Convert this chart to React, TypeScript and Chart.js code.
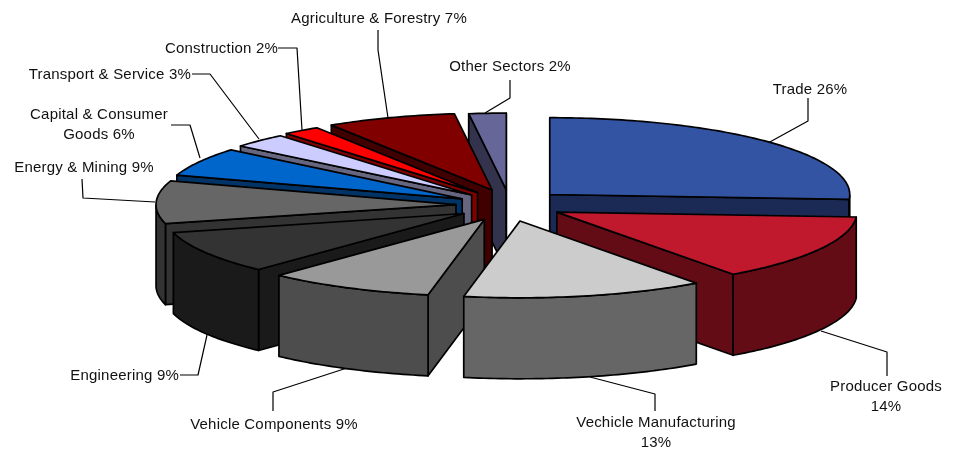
import React, { useEffect, useRef } from "react";
import { Chart, registerables } from "chart.js";

Chart.register(...registerables);

const categories = [
  "Trade",
  "Producer Goods",
  "Vechicle Manufacturing",
  "Vehicle Components",
  "Engineering",
  "Energy & Mining",
  "Capital & Consumer Goods",
  "Transport & Service",
  "Construction",
  "Agriculture & Forestry",
  "Other Sectors",
];
const shares = [26, 14, 13, 9, 9, 9, 6, 3, 2, 7, 2];
const topColors = ["#3353A3", "#C0182C", "#CCCCCC", "#999999", "#333333", "#666666", "#0066CC", "#CCCCFF", "#FF0000", "#800000", "#666699"];
const sideColors = ["#1B2A55", "#640C16", "#666666", "#4D4D4D", "#1A1A1A", "#333333", "#003366", "#666680", "#800000", "#400000", "#33334D"];
const explode = [60, 58, 64, 50, 50, 50, 50, 50, 50, 50, 59];
const paintOrder = [10, 9, 8, 7, 6, 5, 4, 3, 0, 1, 2];
// small screen-space corrections for the reference's perspective
const nudgeX = [0, 0, 0, 1, 1, 0, 0, 1, 1, 3, 4];
const nudgeY = [0, 0, 0, 3, 2, 0, 0, -1, -2, -3, 0];

const TILT = 0.256;
const DEPTH = 81;
const RADIUS = 300;
const FONT = '15px "Liberation Sans", Arial, sans-serif';

type Callout = { lines: string[]; x: number; y: number; align: CanvasTextAlign; leader: number[][] };
const callouts: Callout[] = [
  { lines: ["Trade 26%"], x: 810, y: 90, align: "center", leader: [[808, 98], [808, 121], [768, 143]] },
  { lines: ["Producer Goods", "14%"], x: 886, y: 387, align: "center", leader: [[821, 331], [887, 352], [887, 376]] },
  { lines: ["Vechicle Manufacturing", "13%"], x: 656, y: 423, align: "center", leader: [[590, 377], [655, 394], [655, 411]] },
  { lines: ["Vehicle Components 9%"], x: 274, y: 425, align: "center", leader: [[347, 368], [273, 392], [273, 411]] },
  { lines: ["Engineering 9%"], x: 179, y: 376, align: "right", leader: [[207, 335], [198, 375], [180, 375]] },
  { lines: ["Energy & Mining 9%"], x: 84, y: 168, align: "center", leader: [[155, 202], [83, 198], [82, 179]] },
  { lines: ["Capital & Consumer", "Goods 6%"], x: 99, y: 115, align: "center", leader: [[200, 158], [190, 125], [171, 125]] },
  { lines: ["Transport & Service 3%"], x: 191, y: 75, align: "right", leader: [[259, 139], [210, 74], [192, 74]] },
  { lines: ["Construction 2%"], x: 278, y: 49, align: "right", leader: [[302, 130], [297, 48], [278, 48]] },
  { lines: ["Agriculture & Forestry 7%"], x: 379, y: 19, align: "center", leader: [[388, 118], [378, 50], [378, 30]] },
  { lines: ["Other Sectors 2%"], x: 510, y: 67, align: "center", leader: [[485, 113], [510, 98], [510, 80]] },
];

function fillStroke(ctx: CanvasRenderingContext2D, pts: number[][], fill: string) {
  ctx.beginPath();
  pts.forEach((p, i) => (i ? ctx.lineTo(p[0], p[1]) : ctx.moveTo(p[0], p[1])));
  ctx.closePath();
  ctx.fillStyle = fill;
  ctx.fill();
  ctx.stroke();
}

const pie3d = {
  id: "pie3d",
  beforeDatasetDraw(chart: any) {
    const ctx: CanvasRenderingContext2D = chart.ctx;
    const arcs = chart.getDatasetMeta(0).data;

    ctx.save();
    ctx.strokeStyle = "#000";
    ctx.lineWidth = 1.2;
    ctx.lineJoin = "round";
    callouts.forEach((c) => {
      ctx.beginPath();
      c.leader.forEach((p, i) => (i ? ctx.lineTo(p[0], p[1]) : ctx.moveTo(p[0], p[1])));
      ctx.stroke();
      ctx.fillStyle = "#111";
      ctx.font = FONT;
      (ctx as any).letterSpacing = "0.2px";
      ctx.textAlign = c.align;
      ctx.textBaseline = "middle";
      c.lines.forEach((t, i) => ctx.fillText(t, c.x, c.y + i * 20));
    });

    ctx.lineWidth = 1.7;
    paintOrder.forEach((idx) => {
      const el = arcs[idx];
      const { x, y, startAngle: s, endAngle: e, outerRadius: r } = el.getProps(["x", "y", "startAngle", "endAngle", "outerRadius"], true);
      const off = el.options.offset || 0;
      const mid = (s + e) / 2;
      const ax = x + off * Math.cos(mid) + nudgeX[idx];
      const ay = y + off * Math.sin(mid) * TILT + nudgeY[idx];
      const rim = (a: number) => [ax + r * Math.cos(a), ay + r * Math.sin(a) * TILT];
      const down = (p: number[]) => [p[0], p[1] + DEPTH];
      const apex = [ax, ay];

      const samples: number[] = [];
      const n = Math.max(2, Math.ceil((e - s) / (Math.PI / 180)));
      for (let i = 0; i <= n; i++) samples.push(s + ((e - s) * i) / n);

      // radial walls that face the viewer
      if (-Math.cos(s) > 0) fillStroke(ctx, [apex, rim(s), down(rim(s)), down(apex)], sideColors[idx]);
      if (Math.cos(e) > 0) fillStroke(ctx, [apex, rim(e), down(rim(e)), down(apex)], sideColors[idx]);

      // curved outer wall, front half only
      const front = samples.filter((a) => Math.sin(a) >= 0).map(rim);
      if (front.length > 1) {
        fillStroke(ctx, [...front, ...front.slice().reverse().map(down)], sideColors[idx]);
      }

      // top face
      fillStroke(ctx, [apex, ...samples.map(rim)], topColors[idx]);
    });
    ctx.restore();
    return false;
  },
};

export default function App() {
  const ref = useRef<HTMLCanvasElement>(null);
  useEffect(() => {
    document.body.style.margin = "0";
    document.body.style.background = "#fff";
    const chart = new Chart(ref.current!, {
      type: "pie",
      data: {
        labels: categories,
        datasets: [
          {
            data: shares,
            backgroundColor: topColors,
            borderColor: "#000",
            borderWidth: 1,
            offset: explode,
            radius: RADIUS,
          } as any,
        ],
      },
      options: {
        responsive: false,
        animation: false,
        layout: { padding: { left: 58, bottom: 41 } },
        plugins: { legend: { display: false }, tooltip: { enabled: false } },
      },
      plugins: [pie3d as any],
    });
    return () => chart.destroy();
  }, []);
  return <canvas ref={ref} width={954} height={451} style={{ display: "block" }} />;
}
